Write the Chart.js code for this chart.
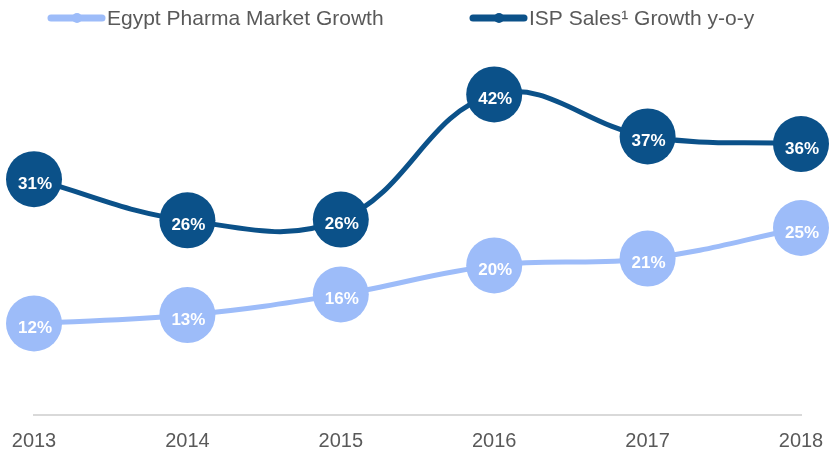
<!DOCTYPE html>
<html>
<head>
<meta charset="utf-8">
<script src="https://cdn.jsdelivr.net/npm/chart.js@4/dist/chart.umd.min.js"></script>
<style>
  html, body { margin: 0; padding: 0; background: #fff; }
  #wrap { width: 829px; height: 451px; }
</style>
</head>
<body>
<div id="wrap"><canvas id="chart"></canvas></div>
<script>
const years = ["2013", "2014", "2015", "2016", "2017", "2018"];
const pharmaGrowth = [12.0, 13.1, 15.8, 19.6, 20.5, 24.5];
const ispGrowth = [30.9, 25.5, 25.6, 42.0, 36.5, 35.5];
const seriesNames = ["Egypt Pharma Market Growth", "ISP Sales\u00b9 Growth y-o-y"];

const LIGHT = "#9dbcf9";
const DARK = "#0b5189";
const TEXT = "#595959";
const FONT = "'Liberation Sans', Arial, sans-serif";

// legend drawn by hand: line marker with a dot, then the series name
const lineLegend = {
  id: "lineLegend",
  afterDraw(chart) {
    const ctx = chart.ctx;
    const starts = [48, 470];
    ctx.save();
    chart.data.datasets.forEach((ds, i) => {
      const x = starts[i], y = 18;
      ctx.strokeStyle = ds.borderColor;
      ctx.fillStyle = ds.borderColor;
      ctx.lineWidth = 7;
      ctx.lineCap = "round";
      ctx.beginPath();
      ctx.moveTo(x + 3, y);
      ctx.lineTo(x + 54, y);
      ctx.stroke();
      ctx.beginPath();
      ctx.arc(x + 29, y, 5, 0, Math.PI * 2);
      ctx.fill();
      ctx.fillStyle = TEXT;
      ctx.font = "21px " + FONT;
      ctx.textBaseline = "middle";
      ctx.fillText(ds.label, x + 59, y + 1);
    });
    ctx.restore();
  }
};

// percentage text inside each bubble
const bubbleLabels = {
  id: "bubbleLabels",
  afterDatasetsDraw(chart) {
    const ctx = chart.ctx;
    ctx.save();
    ctx.font = "bold 17px " + FONT;
    ctx.fillStyle = "#ffffff";
    ctx.textAlign = "center";
    ctx.textBaseline = "middle";
    chart.data.datasets.forEach((ds, i) => {
      chart.getDatasetMeta(i).data.forEach((pt, j) => {
        ctx.fillText(Math.round(ds.data[j]) + "%", pt.x + 1, pt.y + 5);
      });
    });
    ctx.restore();
  }
};

new Chart(document.getElementById("chart"), {
  type: "line",
  data: {
    labels: years,
    datasets: [
      {
        label: seriesNames[0],
        data: pharmaGrowth,
        borderColor: LIGHT,
        backgroundColor: LIGHT,
        borderWidth: 5,
        pointRadius: 28,
        pointHoverRadius: 28,
        pointBorderWidth: 0,
        tension: 0.4
      },
      {
        label: seriesNames[1],
        data: ispGrowth,
        borderColor: DARK,
        backgroundColor: DARK,
        borderWidth: 5,
        pointRadius: 28,
        pointHoverRadius: 28,
        pointBorderWidth: 0,
        tension: 0.4
      }
    ]
  },
  options: {
    responsive: true,
    maintainAspectRatio: false,
    animation: false,
    layout: { padding: { left: 34, right: 27, top: 41, bottom: -16 } },
    plugins: {
      tooltip: { enabled: false },
      legend: { display: false }
    },
    scales: {
      x: {
        offset: false,
        grid: { display: false, drawTicks: false },
        border: { display: true, color: "#d9d9d9", width: 2 },
        ticks: {
          color: TEXT,
          padding: 14,
          maxRotation: 0,
          font: { family: FONT, size: 20 }
        },
        // first/last year labels may hang past the plot edges
        afterFit(scale) {
          scale.paddingLeft = 0;
          scale.paddingRight = 0;
        }
      },
      y: {
        display: false,
        min: 0,
        max: 49
      }
    }
  },
  plugins: [bubbleLabels, lineLegend]
});
</script>
</body>
</html>
